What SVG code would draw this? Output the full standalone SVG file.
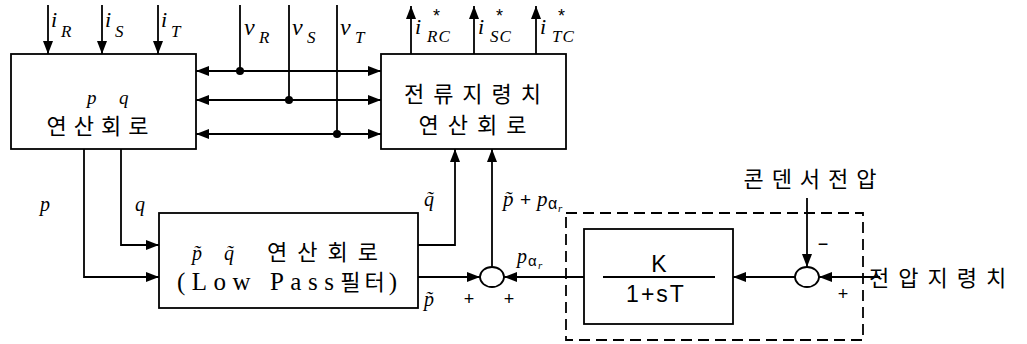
<svg xmlns="http://www.w3.org/2000/svg" width="1027" height="344" viewBox="0 0 1027 344">
<style>
.ln{stroke:#000;stroke-width:1.8;fill:none}
.bx{stroke:#000;stroke-width:1.8;fill:#fff}
.kr{font-family:"Noto Sans CJK KR","Noto Sans",sans-serif;font-size:22px;fill:#000}
.mi{font-family:"Liberation Serif",serif;font-style:italic;fill:#000}
.sf{font-family:"Liberation Sans",Arial,sans-serif;fill:#000}
</style>
<defs>
<marker id="ah" markerUnits="userSpaceOnUse" markerWidth="14" markerHeight="12" refX="13" refY="5" orient="auto-start-reverse" viewBox="0 0 14 10">
<path d="M0,0 L13,5 L0,10 z" fill="#000"/>
</marker>
</defs>

<g id="connectors">
<line class="ln" x1="48" y1="5" x2="48" y2="54" marker-end="url(#ah)"/>
<line class="ln" x1="102" y1="5" x2="102" y2="54" marker-end="url(#ah)"/>
<line class="ln" x1="158" y1="5" x2="158" y2="54" marker-end="url(#ah)"/>
<line class="ln" x1="240" y1="5" x2="240" y2="71"/>
<line class="ln" x1="289" y1="5" x2="289" y2="100"/>
<line class="ln" x1="337" y1="5" x2="337" y2="134"/>
<circle cx="240" cy="71" r="4" fill="#000"/>
<circle cx="289" cy="100" r="4" fill="#000"/>
<circle cx="337" cy="134" r="4" fill="#000"/>
<line class="ln" x1="196" y1="71" x2="381" y2="71" marker-start="url(#ah)" marker-end="url(#ah)"/>
<line class="ln" x1="196" y1="100" x2="381" y2="100" marker-start="url(#ah)" marker-end="url(#ah)"/>
<line class="ln" x1="196" y1="134" x2="381" y2="134" marker-start="url(#ah)" marker-end="url(#ah)"/>
<line class="ln" x1="411" y1="54" x2="411" y2="6" marker-end="url(#ah)"/>
<line class="ln" x1="474" y1="54" x2="474" y2="6" marker-end="url(#ah)"/>
<line class="ln" x1="536" y1="54" x2="536" y2="6" marker-end="url(#ah)"/>
<polyline class="ln" points="84,149 84,277 159,277" marker-end="url(#ah)"/>
<polyline class="ln" points="121,149 121,245 159,245" marker-end="url(#ah)"/>
<polyline class="ln" points="418,245 455,245 455,149" marker-end="url(#ah)"/>
<line class="ln" x1="418" y1="277" x2="480" y2="277" marker-end="url(#ah)"/>
<line class="ln" x1="492" y1="267" x2="492" y2="149" marker-end="url(#ah)"/>
<line class="ln" x1="584" y1="277" x2="504" y2="277" marker-end="url(#ah)"/>
<line class="ln" x1="795" y1="277" x2="733" y2="277" marker-end="url(#ah)"/>
<line class="ln" x1="880" y1="277" x2="819" y2="277" marker-end="url(#ah)"/>
<line class="ln" x1="807" y1="198" x2="807" y2="267" marker-end="url(#ah)"/>
</g>

<g id="pq-calc">
<rect class="bx" x="11" y="54" width="185" height="95"/>
<text class="mi" x="87" y="104" font-size="19">p</text>
<text class="mi" x="119" y="104" font-size="19">q</text>
<text class="kr" x="101" y="134" text-anchor="middle" letter-spacing="7" font-size="23">연산회로</text>
</g>

<g id="current-cmd">
<rect class="bx" x="381" y="54" width="185" height="95"/>
<text class="kr" x="477" y="102" text-anchor="middle" letter-spacing="9" font-size="23">전류지령치</text>
<text class="kr" x="477" y="133" text-anchor="middle" letter-spacing="9" font-size="23">연산회로</text>
</g>

<g id="lpf">
<rect class="bx" x="159" y="213" width="259" height="95"/>
<text class="mi" x="192" y="260" font-size="20">p̃</text>
<text class="mi" x="224" y="260" font-size="20">q̃</text>
<text class="kr" x="267" y="260" letter-spacing="10" font-size="23">연산회로</text>
<text x="177" y="290" font-family="Liberation Serif,serif" font-size="25" letter-spacing="6.5">(Low Pass<tspan class="kr" font-size="23" letter-spacing="4">필터</tspan>)</text>
</g>

<g id="sum1">
<ellipse class="bx" cx="492" cy="277" rx="12" ry="10"/>
</g>

<g id="filter-K">
<rect class="ln" x="566" y="213" width="297" height="127" stroke-width="3" stroke-dasharray="11 6"/>
<rect class="bx" x="584" y="229" width="149" height="95"/>
<line class="ln" x1="603" y1="277" x2="715" y2="277"/>
<text class="sf" x="659" y="272" font-size="23" text-anchor="middle">K</text>
<text class="sf" x="656" y="302" font-size="23" text-anchor="middle" letter-spacing="2">1+sT</text>
</g>

<g id="sum2">
<ellipse class="bx" cx="807" cy="277" rx="12" ry="10"/>
</g>

<g id="labels">
<text class="mi" x="51" y="27" font-size="22">i</text><text class="mi" x="61" y="37" font-size="17">R</text>
<text class="mi" x="105" y="27" font-size="22">i</text><text class="mi" x="115" y="37" font-size="17">S</text>
<text class="mi" x="161" y="27" font-size="22">i</text><text class="mi" x="171" y="37" font-size="17">T</text>
<text class="mi" x="244" y="35" font-size="24">v</text><text class="mi" x="259" y="43" font-size="17">R</text>
<text class="mi" x="292" y="35" font-size="24">v</text><text class="mi" x="307" y="43" font-size="17">S</text>
<text class="mi" x="340" y="35" font-size="24">v</text><text class="mi" x="355" y="43" font-size="17">T</text>
<text class="mi" x="415" y="34" font-size="22">i</text><text class="sf" x="433" y="22" font-size="18">*</text><text class="mi" x="427" y="42" font-size="17" letter-spacing="1">RC</text>
<text class="mi" x="478" y="34" font-size="22">i</text><text class="sf" x="496" y="22" font-size="18">*</text><text class="mi" x="490" y="42" font-size="17" letter-spacing="1">SC</text>
<text class="mi" x="540" y="34" font-size="22">i</text><text class="sf" x="558" y="22" font-size="18">*</text><text class="mi" x="552" y="42" font-size="17" letter-spacing="1">TC</text>
<text class="mi" x="40" y="211" font-size="20">p</text>
<text class="mi" x="135" y="211" font-size="20">q</text>
<text class="mi" x="424" y="206" font-size="20">q̃</text>
<text class="mi" x="424" y="306" font-size="20">p̃</text>
<text class="mi" x="503" y="206" font-size="21">p̃</text>
<text class="sf" x="520" y="206" font-size="19">+</text>
<text class="mi" x="537" y="206" font-size="21">p</text><text class="sf" x="548" y="209" font-size="16">α</text><text class="mi" x="558" y="212" font-size="11">r</text>
<text class="mi" x="517" y="263" font-size="20">p</text><text class="sf" x="528" y="266" font-size="15">α</text><text class="mi" x="538" y="269" font-size="11">r</text>
<text class="sf" x="469" y="305" font-size="18" text-anchor="middle">+</text>
<text class="sf" x="509" y="305" font-size="18" text-anchor="middle">+</text>
<text class="sf" x="823" y="250" font-size="18" text-anchor="middle">−</text>
<text class="sf" x="843" y="300" font-size="18" text-anchor="middle">+</text>
<text class="kr" x="814" y="187" text-anchor="middle" letter-spacing="8" font-size="23">콘덴서전압</text>
<text class="kr" x="869" y="286" letter-spacing="9" font-size="23">전압지령치</text>
</g>
</svg>
